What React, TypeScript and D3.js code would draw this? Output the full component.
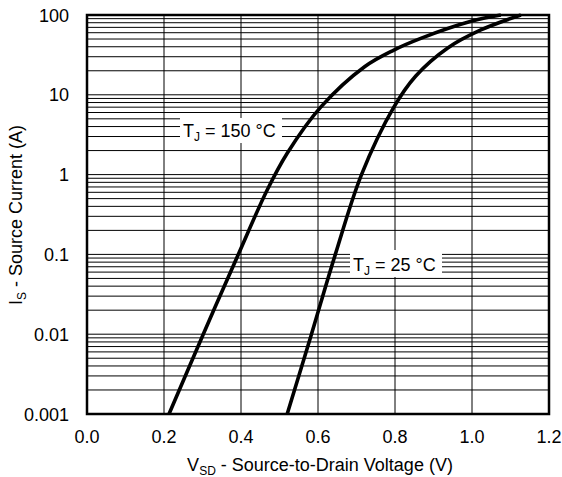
import React from "react";
import * as d3 from "d3";

const xTicks = [0, 0.2, 0.4, 0.6, 0.8, 1.0, 1.2];
const xTickLabels = ["0.0", "0.2", "0.4", "0.6", "0.8", "1.0", "1.2"];
const yTicks = [0.001, 0.01, 0.1, 1, 10, 100];
const yTickLabels = ["0.001", "0.01", "0.1", "1", "10", "100"];

const voltage150 = [0.213, 0.302, 0.393, 0.468, 0.52, 0.607, 0.721, 0.797, 0.867, 1.0, 1.075];
const current150 = [0.001, 0.01, 0.1, 0.64, 1.85, 7, 22.5, 36.4, 51, 84, 100];
const voltage25 = [0.52, 0.583, 0.645, 0.713, 0.797, 0.854, 0.937, 1.023, 1.127];
const current25 = [0.001, 0.01, 0.1, 1, 7, 17.2, 38.6, 64.9, 100];

const W = 562;
const H = 477;
const L = 87, R = 549, T = 15, B = 414;
const FONT = "Liberation Sans, Arial, Helvetica, sans-serif";

export default function App() {
  const x = d3.scaleLinear().domain([0, 1.2]).range([L, R]);
  const y = d3.scaleLog().domain([0.001, 100]).range([B, T]);

  const minor: number[] = [];
  for (let e = -3; e <= 1; e++) {
    for (let k = 1; k <= 9; k++) minor.push(k * Math.pow(10, e));
  }
  minor.push(100);

  const line = d3
    .line<[number, number]>()
    .x((d) => x(d[0]))
    .y((d) => y(d[1]))
    .curve(d3.curveCatmullRom.alpha(0.5));

  const d150 = line(voltage150.map((v, i) => [v, current150[i]] as [number, number])) || "";
  const d25 = line(voltage25.map((v, i) => [v, current25[i]] as [number, number])) || "";

  return (
    <svg
      width={W}
      height={H}
      style={{ position: "absolute", left: 0, top: 0, background: "#fff" }}
      fontFamily={FONT}
    >
      <rect x={0} y={0} width={W} height={H} fill="#fff" />
      {minor.map((v, i) => (
        <line key={"h" + i} x1={L} x2={R} y1={y(v)} y2={y(v)} stroke="#000" strokeWidth={1} />
      ))}
      {xTicks.map((v, i) => (
        <line key={"v" + i} x1={x(v)} x2={x(v)} y1={T} y2={B} stroke="#000" strokeWidth={1} />
      ))}
      {/* label boxes */}
      <rect x={180} y={118} width={102} height={25} fill="#fff" />
      <rect x={350} y={250} width={92} height={27} fill="#fff" />
      <path d={d150} fill="none" stroke="#000" strokeWidth={3.6} strokeLinecap="butt" />
      <path d={d25} fill="none" stroke="#000" strokeWidth={3.6} strokeLinecap="butt" />
      <rect x={L} y={T} width={R - L} height={B - T} fill="none" stroke="#000" strokeWidth={2.5} />
      <text x={183} y={137} fontSize={18} fill="#000">
        T<tspan fontSize={12} dy={4}>J</tspan>
        <tspan dy={-4}> = 150 °C</tspan>
      </text>
      <text x={353} y={271} fontSize={18} fill="#000">
        T<tspan fontSize={12} dy={4}>J</tspan>
        <tspan dy={-4}> = 25 °C</tspan>
      </text>
      {xTicks.map((v, i) => (
        <text key={"xl" + i} x={x(v)} y={443} fontSize={18} textAnchor="middle" fill="#000">
          {xTickLabels[i]}
        </text>
      ))}
      {yTicks.map((v, i) => (
        <text key={"yl" + i} x={69} y={y(v) + 6.5} fontSize={18} textAnchor="end" fill="#000">
          {yTickLabels[i]}
        </text>
      ))}
      <text x={320} y={471} fontSize={18} textAnchor="middle" fill="#000">
        V<tspan fontSize={12} dy={4}>SD</tspan>
        <tspan dy={-4}> - Source-to-Drain Voltage (V)</tspan>
      </text>
      <text
        transform={`translate(22,215) rotate(-90)`}
        fontSize={18}
        textAnchor="middle"
        fill="#000"
      >
        I<tspan fontSize={12} dy={4}>S</tspan>
        <tspan dy={-4}> - Source Current (A)</tspan>
      </text>
    </svg>
  );
}
